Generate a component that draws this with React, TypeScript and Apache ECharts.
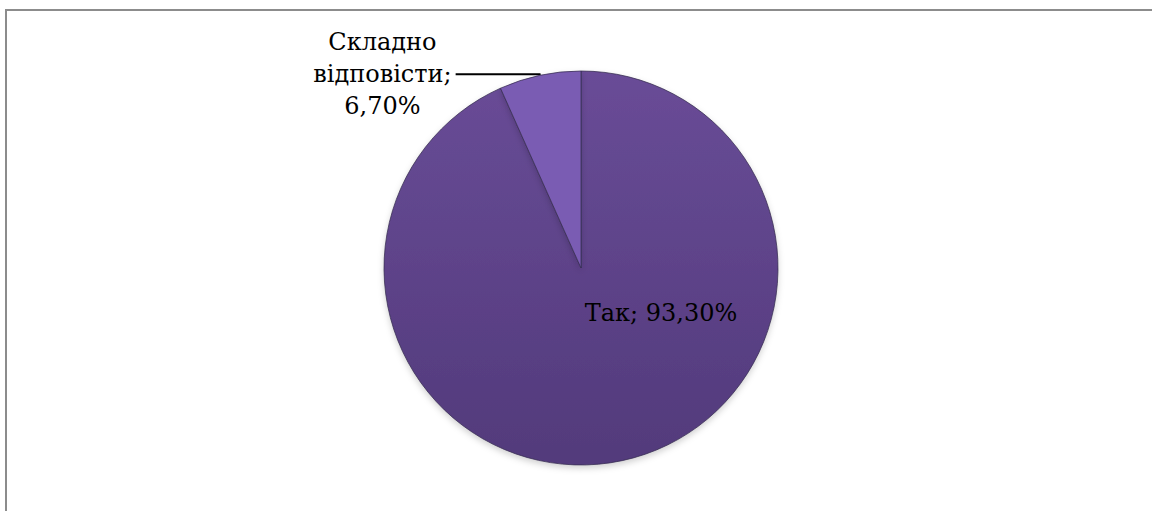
import React, { useEffect, useRef } from "react";
import * as echarts from "echarts";

const categories = ["Так", "Складно відповісти"];
const values = [93.3, 6.7];
const labelTexts = ["Так; 93,30%", "{c|Складно}\n{c|відповісти;}\n{c|6,70%}"];

export default function App() {
  const ref = useRef<HTMLDivElement>(null);
  useEffect(() => {
    document.body.style.margin = "0";
    const chart = echarts.init(ref.current!, null, { renderer: "svg" });
    const font = "DejaVu Serif";
    const fs = 24;
    chart.setOption({
      animation: false,
      backgroundColor: "#ffffff",
      textStyle: { fontFamily: font, fontSize: fs },
      graphic: [
        {
          type: "rect",
          shape: { x: 6, y: 10, width: 1300, height: 700 },
          style: { fill: "none", stroke: "#8c8c8c", lineWidth: 2 },
          silent: true,
          z: 100,
        },
      ],
      series: [
        {
          type: "pie",
          center: [581, 268],
          radius: 197,
          startAngle: 90,
          clockwise: true,
          avoidLabelOverlap: false,
          label: { fontFamily: font, fontSize: fs, color: "#000" },
          itemStyle: {
            borderColor: "rgba(55,45,80,0.75)",
            borderWidth: 1,
            shadowBlur: 6,
            shadowColor: "rgba(0,0,0,0.18)",
            shadowOffsetY: 3,
          },
          data: categories.map((name, i) => ({
            name,
            value: values[i],
            itemStyle:
              i === 0
                ? {
                    color: new echarts.graphic.LinearGradient(0, 0, 0, 1, [
                      { offset: 0, color: "#694c97" },
                      { offset: 1, color: "#523a7b" },
                    ]),
                  }
                : { color: "#7a5bb3" },
            label:
              i === 0
                ? {
                    show: true,
                    position: "inside",
                    formatter: labelTexts[0],
                    color: "#000",
                    fontFamily: font,
                    fontSize: fs,
                  }
                : {
                    show: true,
                    position: "outside",
                    formatter: labelTexts[1],
                    color: "#000",
                    fontFamily: font,
                    fontSize: fs,
                    lineHeight: 32,
                    distanceToLabelLine: 4,
                    rich: {
                      c: { align: "center", fontFamily: font, fontSize: fs, lineHeight: 32, color: "#000" },
                    },
                  },
            labelLine:
              i === 0
                ? { show: false }
                : { show: true, length: 1, length2: 84, smooth: false, lineStyle: { color: "#000", width: 2 } },
          })),
          labelLayout: (p: any) =>
            p.dataIndex === 0 ? { x: 661, y: 313, align: "center", verticalAlign: "middle" } : {},
        },
      ],
    });
    return () => chart.dispose();
  }, []);
  return <div ref={ref} style={{ width: 1152, height: 511 }} />;
}
